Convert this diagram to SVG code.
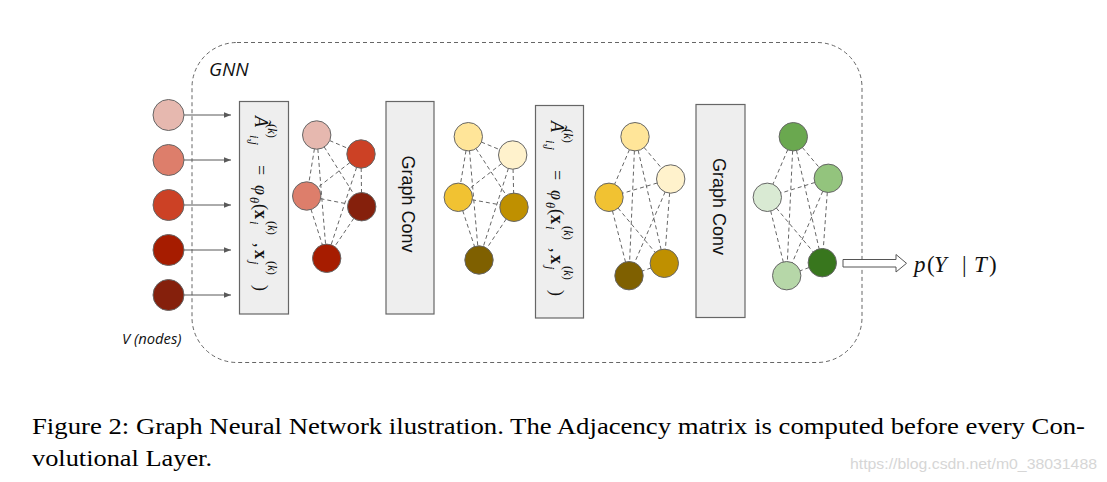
<svg xmlns="http://www.w3.org/2000/svg" width="1107" height="482" viewBox="0 0 1107 482">
<style>
.edge{stroke:#666;stroke-width:1;stroke-dasharray:4,3;fill:none}
.arr{stroke:#595959;stroke-width:1;fill:none}
.nd{stroke:#666;stroke-width:1}
.box{fill:#eeeeee;stroke:#666;stroke-width:1.2}
.m{font-family:"Liberation Serif",serif;fill:#111}
.it{font-style:italic}
.bf{font-weight:bold}
.s{font-size:12.5px}
.gc{font-family:"Liberation Sans",Arial,sans-serif;font-size:18px;fill:#111}
.lbl{font-family:"Open Sans","DejaVu Sans",sans-serif;font-style:italic;fill:#111}
.cap{font-family:"Liberation Serif","Times New Roman",serif;font-size:24px;fill:#000}
</style>
<defs>
<marker id="ah" viewBox="0 0 10 10" refX="10" refY="5" markerWidth="7" markerHeight="7" markerUnits="userSpaceOnUse" orient="auto">
<path d="M0,1 L10,5 L0,9 z" fill="#595959"/>
</marker>
</defs>
<rect width="1107" height="482" fill="#ffffff"/>

<g id="container">
<rect x="192" y="42.5" width="670" height="320" rx="45" ry="45" fill="none" stroke="#666" stroke-width="1" stroke-dasharray="4,3"/>
<text class="lbl" x="209" y="76" font-size="19">GNN</text>
</g>

<g id="connectors">
<line class="arr" x1="184" y1="115" x2="231" y2="115" marker-end="url(#ah)"/>
<line class="arr" x1="184" y1="160" x2="231" y2="160" marker-end="url(#ah)"/>
<line class="arr" x1="184" y1="205" x2="231" y2="205" marker-end="url(#ah)"/>
<line class="arr" x1="184" y1="250" x2="231" y2="250" marker-end="url(#ah)"/>
<line class="arr" x1="184" y1="295" x2="231" y2="295" marker-end="url(#ah)"/>
<g>
<line class="edge" x1="316.7" y1="135" x2="361" y2="154"/>
<line class="edge" x1="316.7" y1="135" x2="306.7" y2="196"/>
<line class="edge" x1="316.7" y1="135" x2="361.7" y2="206.7"/>
<line class="edge" x1="316.7" y1="135" x2="326.7" y2="258.3"/>
<line class="edge" x1="361" y1="154" x2="306.7" y2="196"/>
<line class="edge" x1="361" y1="154" x2="361.7" y2="206.7"/>
<line class="edge" x1="361" y1="154" x2="326.7" y2="258.3"/>
<line class="edge" x1="306.7" y1="196" x2="361.7" y2="206.7"/>
<line class="edge" x1="306.7" y1="196" x2="326.7" y2="258.3"/>
<line class="edge" x1="361.7" y1="206.7" x2="326.7" y2="258.3"/>
</g>
<g>
<line class="edge" x1="468.3" y1="136.7" x2="512.7" y2="155"/>
<line class="edge" x1="468.3" y1="136.7" x2="458.3" y2="197.3"/>
<line class="edge" x1="468.3" y1="136.7" x2="514" y2="207.3"/>
<line class="edge" x1="468.3" y1="136.7" x2="479" y2="260"/>
<line class="edge" x1="512.7" y1="155" x2="458.3" y2="197.3"/>
<line class="edge" x1="512.7" y1="155" x2="514" y2="207.3"/>
<line class="edge" x1="512.7" y1="155" x2="479" y2="260"/>
<line class="edge" x1="458.3" y1="197.3" x2="514" y2="207.3"/>
<line class="edge" x1="458.3" y1="197.3" x2="479" y2="260"/>
<line class="edge" x1="514" y1="207.3" x2="479" y2="260"/>
</g>
<g>
<line class="edge" x1="635" y1="136.7" x2="670.7" y2="179"/>
<line class="edge" x1="635" y1="136.7" x2="609" y2="197.3"/>
<line class="edge" x1="635" y1="136.7" x2="664.3" y2="263.3"/>
<line class="edge" x1="635" y1="136.7" x2="629" y2="275.7"/>
<line class="edge" x1="670.7" y1="179" x2="609" y2="197.3"/>
<line class="edge" x1="670.7" y1="179" x2="664.3" y2="263.3"/>
<line class="edge" x1="670.7" y1="179" x2="629" y2="275.7"/>
<line class="edge" x1="609" y1="197.3" x2="664.3" y2="263.3"/>
<line class="edge" x1="609" y1="197.3" x2="629" y2="275.7"/>
<line class="edge" x1="664.3" y1="263.3" x2="629" y2="275.7"/>
</g>
<g>
<line class="edge" x1="793.3" y1="136.7" x2="828.3" y2="178.3"/>
<line class="edge" x1="793.3" y1="136.7" x2="767.3" y2="197.3"/>
<line class="edge" x1="793.3" y1="136.7" x2="822.3" y2="262.7"/>
<line class="edge" x1="793.3" y1="136.7" x2="786.7" y2="275.7"/>
<line class="edge" x1="828.3" y1="178.3" x2="767.3" y2="197.3"/>
<line class="edge" x1="828.3" y1="178.3" x2="822.3" y2="262.7"/>
<line class="edge" x1="828.3" y1="178.3" x2="786.7" y2="275.7"/>
<line class="edge" x1="767.3" y1="197.3" x2="822.3" y2="262.7"/>
<line class="edge" x1="767.3" y1="197.3" x2="786.7" y2="275.7"/>
<line class="edge" x1="822.3" y1="262.7" x2="786.7" y2="275.7"/>
</g>
<polygon points="843,259.5 896,259.5 896,254.5 906.5,263.3 896,272 896,267 843,267" fill="#ffffff" stroke="#555" stroke-width="1"/>
</g>

<g id="inputs">
<circle class="nd" cx="168.5" cy="115" r="15.5" fill="#e6b8af"/>
<circle class="nd" cx="168.5" cy="160" r="15.5" fill="#dd7e6b"/>
<circle class="nd" cx="168.5" cy="205" r="15.5" fill="#cc4125"/>
<circle class="nd" cx="168.5" cy="250" r="15.5" fill="#a61c00"/>
<circle class="nd" cx="168.5" cy="295" r="15.5" fill="#85200c"/>
<text class="lbl" x="122" y="344" font-size="14.8">V (nodes)</text>
</g>

<g id="adjacency1">
<rect class="box" x="239.5" y="101.5" width="49" height="212.5"/>
<text class="m" transform="rotate(90)" font-size="18">
<tspan class="it" x="116" y="-255">Ã</tspan>
<tspan class="s" x="124" y="-268">(<tspan class="it">k</tspan>)</tspan>
<tspan class="it s" x="135" y="-250">i,j</tspan>
<tspan x="165" y="-255">=</tspan>
<tspan class="it" x="185" y="-255">φ</tspan>
<tspan class="it s" x="197" y="-250">θ</tspan>
<tspan x="204" y="-255">(</tspan>
<tspan class="bf" x="210" y="-255">x</tspan>
<tspan class="s" x="221" y="-268">(<tspan class="it">k</tspan>)</tspan>
<tspan class="it s" x="221" y="-250">i</tspan>
<tspan x="243" y="-255">,</tspan>
<tspan class="bf" x="250" y="-255">x</tspan>
<tspan class="s" x="261" y="-268">(<tspan class="it">k</tspan>)</tspan>
<tspan class="it s" x="261" y="-250">j</tspan>
<tspan x="285" y="-255">)</tspan>
</text>
</g>

<g id="graph1">
<circle class="nd" cx="316.7" cy="135" r="14.2" fill="#e6b8af"/>
<circle class="nd" cx="361" cy="154" r="14.2" fill="#cc4125"/>
<circle class="nd" cx="306.7" cy="196" r="14.2" fill="#dd7e6b"/>
<circle class="nd" cx="361.7" cy="206.7" r="14.2" fill="#85200c"/>
<circle class="nd" cx="326.7" cy="258.3" r="14.2" fill="#a61c00"/>
</g>

<g id="graphconv1">
<rect class="box" x="386" y="101.5" width="48" height="212.5"/>
<text class="gc" transform="translate(402,204) rotate(90)" text-anchor="middle">Graph Conv</text>
</g>

<g id="graph2">
<circle class="nd" cx="468.3" cy="136.7" r="14.2" fill="#ffe599"/>
<circle class="nd" cx="512.7" cy="155" r="14.2" fill="#fff2cc"/>
<circle class="nd" cx="458.3" cy="197.3" r="14.2" fill="#f1c232"/>
<circle class="nd" cx="514" cy="207.3" r="14.2" fill="#bf9000"/>
<circle class="nd" cx="479" cy="260" r="14.2" fill="#7f6000"/>
</g>

<g id="adjacency2">
<rect class="box" x="535.5" y="105.5" width="48" height="212.5"/>
<g transform="translate(296,5)">
<text class="m" transform="rotate(90)" font-size="18">
<tspan class="it" x="116" y="-255">Ã</tspan>
<tspan class="s" x="124" y="-268">(<tspan class="it">k</tspan>)</tspan>
<tspan class="it s" x="135" y="-250">i,j</tspan>
<tspan x="165" y="-255">=</tspan>
<tspan class="it" x="185" y="-255">φ</tspan>
<tspan class="it s" x="197" y="-250">θ</tspan>
<tspan x="204" y="-255">(</tspan>
<tspan class="bf" x="210" y="-255">x</tspan>
<tspan class="s" x="221" y="-268">(<tspan class="it">k</tspan>)</tspan>
<tspan class="it s" x="221" y="-250">i</tspan>
<tspan x="243" y="-255">,</tspan>
<tspan class="bf" x="250" y="-255">x</tspan>
<tspan class="s" x="261" y="-268">(<tspan class="it">k</tspan>)</tspan>
<tspan class="it s" x="261" y="-250">j</tspan>
<tspan x="285" y="-255">)</tspan>
</text>
</g>
</g>

<g id="graph3">
<circle class="nd" cx="635" cy="136.7" r="14.2" fill="#ffe599"/>
<circle class="nd" cx="670.7" cy="179" r="14.2" fill="#fff2cc"/>
<circle class="nd" cx="609" cy="197.3" r="14.2" fill="#f1c232"/>
<circle class="nd" cx="664.3" cy="263.3" r="14.2" fill="#bf9000"/>
<circle class="nd" cx="629" cy="275.7" r="14.2" fill="#7f6000"/>
</g>

<g id="graphconv2">
<rect class="box" x="696" y="104.5" width="49" height="213"/>
<text class="gc" transform="translate(712.5,206.5) rotate(90)" text-anchor="middle">Graph Conv</text>
</g>

<g id="graph4">
<circle class="nd" cx="793.3" cy="136.7" r="14.2" fill="#6aa84f"/>
<circle class="nd" cx="828.3" cy="178.3" r="14.2" fill="#93c47d"/>
<circle class="nd" cx="767.3" cy="197.3" r="14.2" fill="#d9ead3"/>
<circle class="nd" cx="822.3" cy="262.7" r="14.2" fill="#38761d"/>
<circle class="nd" cx="786.7" cy="275.7" r="14.2" fill="#b6d7a8"/>
</g>

<g id="output">
<text class="m" font-size="23" y="272">
<tspan class="it" x="914">p</tspan><tspan x="927">(</tspan><tspan class="it" x="934">Y</tspan><tspan x="962">|</tspan><tspan class="it" x="974">T</tspan><tspan x="989">)</tspan>
</text>
</g>

<g id="caption">
<text class="cap" x="32" y="434" textLength="1053" lengthAdjust="spacingAndGlyphs">Figure 2: Graph Neural Network ilustration. The Adjacency matrix is computed before every Con-</text>
<text class="cap" x="32" y="466" textLength="180" lengthAdjust="spacingAndGlyphs">volutional Layer.</text>
<text x="850" y="469" font-family="Liberation Sans,Arial,sans-serif" font-size="15" fill="#d6d6d6" textLength="247" lengthAdjust="spacingAndGlyphs">https://blog.csdn.net/m0_38031488</text>
</g>
</svg>
